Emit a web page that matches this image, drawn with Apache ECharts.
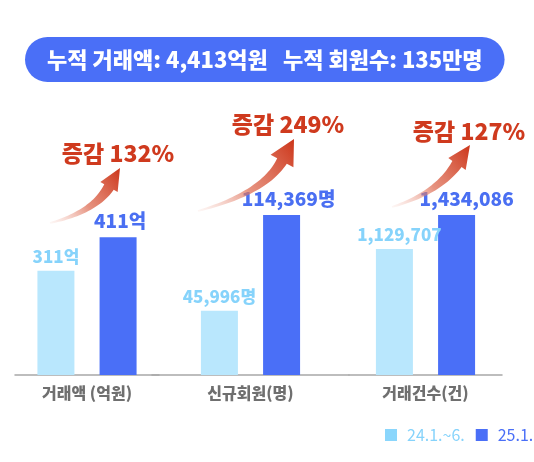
<!DOCTYPE html>
<html>
<head>
<meta charset="utf-8">
<script src="https://cdn.jsdelivr.net/npm/echarts@6/dist/echarts.min.js"></script>
<style>
  html, body { margin: 0; padding: 0; background: #fff; }
  #chart { width: 534px; height: 462px; }
</style>
</head>
<body>
<div id="chart"></div>
<script>
// ---- data ----
const headline = '누적 거래액: 4,413억원   누적 회원수: 135만명';
const categories = ['거래액 (억원)', '신규회원(명)', '거래건수(건)'];
const seriesNames = ['24.1.~6.', '25.1.~6.'];
const prevValues = [311, 45996, 1129707];     // 24.1.~6.
const currValues = [411, 114369, 1434086];    // 25.1.~6.
const valueUnits = ['억', '명', ''];
const growthLabels = ['증감 132%', '증감 249%', '증감 127%'];

// ---- styling ----
const FONT = 'Noto Sans CJK KR';
const LIGHT = '#b9e7fd';
const LIGHT_TXT = '#86d3fb';
const DARK = '#4a6ff7';
const DARK_TXT = '#4a6ff2';
const RED = '#cf3a1e';

// each group has its own scale (the reference normalizes each metric separately)
const groupYMax = [477, 114369, 1434086];
const gridBoxes = [
  { left: 15, width: 144 },
  { left: 152, width: 197 },
  { left: 349, width: 153 }
];
const prevLabelOffset = [[0, 0], [0, 0], [5, 0]];
const currLabelOffset = [[2, 0], [7, 0], [10, 0]];

const fmt = (v, u) => v.toLocaleString('en-US') + u;

const grids = [], xAxes = [], yAxes = [], series = [];
categories.forEach((cat, i) => {
  grids.push({ left: gridBoxes[i].left, width: gridBoxes[i].width, top: 215, bottom: 87 });
  xAxes.push({
    type: 'category', gridIndex: i, data: [cat],
    axisTick: { show: false },
    axisLine: { lineStyle: { color: '#a8a8a8', width: 1.5 } },
    axisLabel: { color: '#6f6f6f', fontSize: 16, fontWeight: 900, fontFamily: FONT, margin: 10 }
  });
  yAxes.push({ type: 'value', gridIndex: i, min: 0, max: groupYMax[i], show: false, splitLine: { show: false } });
  series.push({
    type: 'bar', name: seriesNames[0], xAxisIndex: i, yAxisIndex: i,
    data: [prevValues[i]], barWidth: 37, barGap: '68%',
    itemStyle: { color: LIGHT },
    label: {
      show: true, position: 'top', distance: 6, offset: prevLabelOffset[i],
      color: LIGHT_TXT, fontSize: 17, fontWeight: 900, fontFamily: FONT,
      formatter: p => fmt(p.value, valueUnits[i])
    }
  });
  series.push({
    type: 'bar', name: seriesNames[1], xAxisIndex: i, yAxisIndex: i,
    data: [currValues[i]], barWidth: 37, barGap: '68%',
    itemStyle: { color: DARK },
    label: {
      show: true, position: 'top', distance: 7, offset: currLabelOffset[i],
      color: DARK_TXT, fontSize: 19, fontWeight: 900, fontFamily: FONT,
      formatter: p => fmt(p.value, valueUnits[i])
    }
  });
});

// ---- decorative growth arrows ----
const arrowDefs = [
  { tail: [50, 223], ctrl: [94, 212], base: [109, 187], tip: [120, 168], head: 10, text: [118, 153] },
  { tail: [198, 211], ctrl: [264, 193], base: [282, 161], tip: [294, 139], head: 13, text: [288, 124] },
  { tail: [392, 207], ctrl: [438, 193], base: [457, 164], tip: [470, 145], head: 10.5, text: [469, 131] }
];
function arrowPolygon(a) {
  const N = 30, left = [], right = [];
  const [x0, y0] = a.tail, [cx, cy] = a.ctrl, [x1, y1] = a.base;
  for (let k = 0; k <= N; k++) {
    const t = k / N;
    const px = (1 - t) * (1 - t) * x0 + 2 * (1 - t) * t * cx + t * t * x1;
    const py = (1 - t) * (1 - t) * y0 + 2 * (1 - t) * t * cy + t * t * y1;
    const dx = 2 * (1 - t) * (cx - x0) + 2 * t * (x1 - cx);
    const dy = 2 * (1 - t) * (cy - y0) + 2 * t * (y1 - cy);
    const len = Math.hypot(dx, dy);
    const nx = -dy / len, ny = dx / len;
    const hw = 0.9 + 4.6 * Math.pow(t, 1.1);
    left.push([px + nx * hw, py + ny * hw]);
    right.push([px - nx * hw, py - ny * hw]);
  }
  const dx = a.tip[0] - a.base[0], dy = a.tip[1] - a.base[1];
  const len = Math.hypot(dx, dy);
  const nx = -dy / len, ny = dx / len;
  const w1 = [a.base[0] + nx * a.head, a.base[1] + ny * a.head];
  const w2 = [a.base[0] - nx * a.head, a.base[1] - ny * a.head];
  return left.concat([w1, a.tip, w2]).concat(right.reverse());
}
const graphics = [];
arrowDefs.forEach((a, i) => {
  graphics.push({
    type: 'polygon',
    shape: { points: arrowPolygon(a) },
    style: {
      fill: {
        type: 'linear', global: true,
        x: a.tail[0], y: a.tail[1], x2: a.tip[0], y2: a.tip[1],
        colorStops: [
          { offset: 0, color: 'rgba(240,175,160,0.1)' },
          { offset: 0.45, color: 'rgba(222,110,85,0.75)' },
          { offset: 1, color: '#cc3519' }
        ]
      }
    },
    z: 10
  });
  graphics.push({
    type: 'text', x: a.text[0], y: a.text[1],
    style: {
      text: growthLabels[i], fill: RED, font: '900 23px "' + FONT + '"',
      textAlign: 'center', textVerticalAlign: 'middle'
    },
    z: 10
  });
});

const chart = echarts.init(document.getElementById('chart'));
chart.setOption({
  backgroundColor: '#ffffff',
  animation: false,
  title: {
    text: headline, left: 25, top: 37,
    padding: [10, 22],
    backgroundColor: DARK, borderRadius: 23,
    textStyle: { color: '#ffffff', fontSize: 22, fontWeight: 900, fontFamily: FONT, lineHeight: 25 }
  },
  legend: {
    left: 380, top: 422, width: 300,
    itemWidth: 12, itemHeight: 12, itemGap: 11, icon: 'rect',
    data: [
      { name: seriesNames[0], itemStyle: { color: '#8ad6fc' }, textStyle: { color: LIGHT_TXT } },
      { name: seriesNames[1], itemStyle: { color: DARK }, textStyle: { color: DARK } }
    ],
    textStyle: { fontSize: 16, fontFamily: FONT, padding: [0, 0, 0, 5] }
  },
  grid: grids,
  xAxis: xAxes,
  yAxis: yAxes,
  series: series,
  graphic: graphics
});
</script>
</body>
</html>
